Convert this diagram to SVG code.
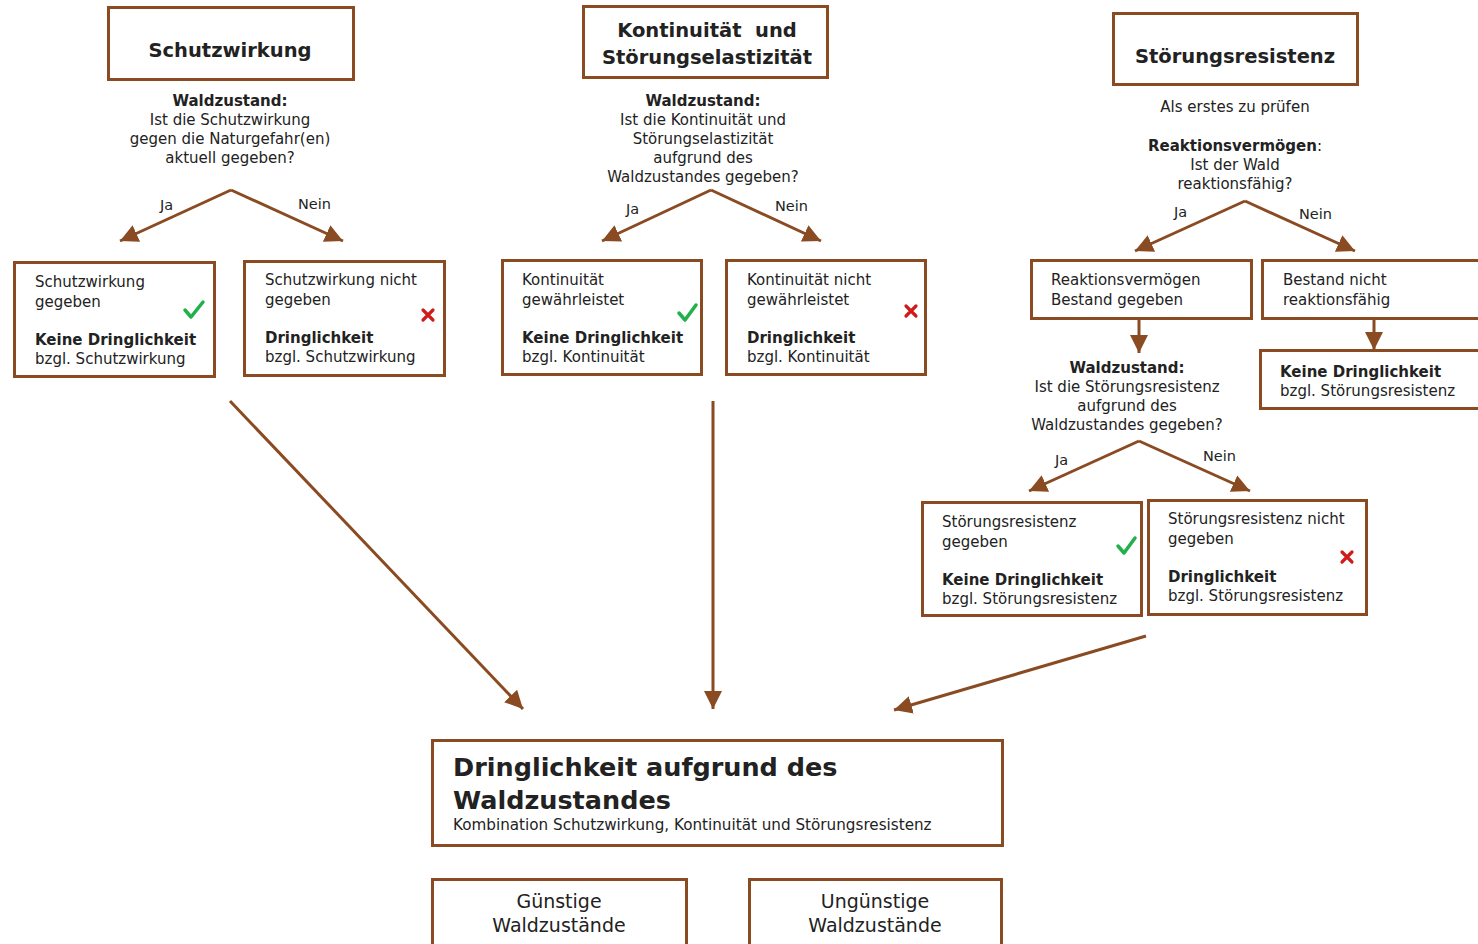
<svg xmlns="http://www.w3.org/2000/svg" width="1478" height="944" viewBox="0 0 1478 944">
<style>
.box{fill:#fff;stroke:#8a4b22;stroke-width:3}
.t{font-family:"DejaVu Sans","Liberation Sans",sans-serif;fill:#222}
.title{font-size:19.5px;font-weight:bold;text-anchor:middle}
.q{font-size:15px;text-anchor:middle}
.qb{font-weight:bold}
.bt{font-size:15px}
.b{font-weight:bold}
.lbl{font-size:14.5px}
.con{stroke:#8a4b22;stroke-width:3;fill:none}
.ok{fill:none;stroke:#22b04a;stroke-width:3.5;stroke-linecap:round;stroke-linejoin:round}
.no{stroke:#d01b1b;stroke-width:3.2;stroke-linecap:round}
</style>
<defs>
<marker id="ah" markerUnits="userSpaceOnUse" markerWidth="20" markerHeight="18" refX="18" refY="9" orient="auto">
<path d="M0,0 L18,9 L0,18 z" fill="#8a4b22"/>
</marker>
</defs>
<rect width="1478" height="944" fill="#fff"/>

<g id="connectors">
<polyline class="con" points="231,190 120,241" marker-end="url(#ah)"/>
<polyline class="con" points="231,190 343,241" marker-end="url(#ah)"/>
<polyline class="con" points="711,190 602,241" marker-end="url(#ah)"/>
<polyline class="con" points="711,190 821,241" marker-end="url(#ah)"/>
<polyline class="con" points="1245,201 1135,251" marker-end="url(#ah)"/>
<polyline class="con" points="1245,201 1355,251" marker-end="url(#ah)"/>
<line class="con" x1="1139" y1="319" x2="1139" y2="353" marker-end="url(#ah)"/>
<line class="con" x1="1374" y1="319" x2="1374" y2="350" marker-end="url(#ah)"/>
<polyline class="con" points="1139,441 1029,491" marker-end="url(#ah)"/>
<polyline class="con" points="1139,441 1250,491" marker-end="url(#ah)"/>
<line class="con" x1="230" y1="401" x2="523" y2="709" marker-end="url(#ah)"/>
<line class="con" x1="713" y1="401" x2="713" y2="709" marker-end="url(#ah)"/>
<line class="con" x1="1146" y1="636" x2="894" y2="710" marker-end="url(#ah)"/>
<text class="t lbl" x="160" y="210">Ja</text>
<text class="t lbl" x="298" y="209">Nein</text>
<text class="t lbl" x="626" y="214">Ja</text>
<text class="t lbl" x="775" y="211">Nein</text>
<text class="t lbl" x="1174" y="217">Ja</text>
<text class="t lbl" x="1299" y="219">Nein</text>
<text class="t lbl" x="1055" y="465">Ja</text>
<text class="t lbl" x="1203" y="461">Nein</text>
</g>

<g id="schutzwirkung">
<rect class="box" x="108.5" y="7.5" width="245" height="72"/>
<text class="t title" x="230" y="57">Schutzwirkung</text>
</g>
<g id="q-schutz">
<text class="t q" x="230" y="106"><tspan class="qb">Waldzustand:</tspan><tspan x="230" dy="19">Ist die Schutzwirkung</tspan><tspan x="230" dy="19">gegen die Naturgefahr(en)</tspan><tspan x="230" dy="19">aktuell gegeben?</tspan></text>
</g>
<g id="schutz-ja">
<rect class="box" x="14.5" y="262.5" width="200" height="114"/>
<text class="t bt" x="35" y="287">Schutzwirkung<tspan x="35" dy="19.5">gegeben</tspan><tspan class="b" x="35" dy="38">Keine Dringlichkeit</tspan><tspan x="35" dy="19">bzgl. Schutzwirkung</tspan></text>
<polyline class="ok" points="185,310 191,317 203,302"/>
</g>
<g id="schutz-nein">
<rect class="box" x="244.5" y="261.5" width="200" height="114"/>
<text class="t bt" x="265" y="285">Schutzwirkung nicht<tspan x="265" dy="19.5">gegeben</tspan><tspan class="b" x="265" dy="38">Dringlichkeit</tspan><tspan x="265" dy="19">bzgl. Schutzwirkung</tspan></text>
<path class="no" d="M423,310 L433,320 M433,310 L423,320"/>
</g>

<g id="kontinuitaet">
<rect class="box" x="583.5" y="6.5" width="244" height="71"/>
<text class="t title" x="707" y="37" xml:space="preserve">Kontinuität  und</text>
<text class="t title" x="707" y="64">Störungselastizität</text>
</g>
<g id="q-kont">
<text class="t q" x="703" y="106"><tspan class="qb">Waldzustand:</tspan><tspan x="703" dy="19">Ist die Kontinuität und</tspan><tspan x="703" dy="19">Störungselastizität</tspan><tspan x="703" dy="19">aufgrund des</tspan><tspan x="703" dy="19">Waldzustandes gegeben?</tspan></text>
</g>
<g id="kont-ja">
<rect class="box" x="502.5" y="260.5" width="199" height="114"/>
<text class="t bt" x="522" y="285">Kontinuität<tspan x="522" dy="19.5">gewährleistet</tspan><tspan class="b" x="522" dy="38">Keine Dringlichkeit</tspan><tspan x="522" dy="19">bzgl. Kontinuität</tspan></text>
<polyline class="ok" points="679,313 685,320 696,305"/>
</g>
<g id="kont-nein">
<rect class="box" x="726.5" y="260.5" width="199" height="114"/>
<text class="t bt" x="747" y="285">Kontinuität nicht<tspan x="747" dy="19.5">gewährleistet</tspan><tspan class="b" x="747" dy="38">Dringlichkeit</tspan><tspan x="747" dy="19">bzgl. Kontinuität</tspan></text>
<path class="no" d="M906,306 L916,316 M916,306 L906,316"/>
</g>

<g id="stoerungsresistenz">
<rect class="box" x="1113.5" y="13.5" width="244" height="71"/>
<text class="t title" x="1235" y="63">Störungsresistenz</text>
</g>
<g id="q-reakt">
<text class="t q" x="1235" y="112">Als erstes zu prüfen</text>
<text class="t q" x="1235" y="151"><tspan class="qb">Reaktionsvermögen</tspan>:<tspan x="1235" dy="19">Ist der Wald</tspan><tspan x="1235" dy="19">reaktionsfähig?</tspan></text>
</g>
<g id="reakt-ja">
<rect class="box" x="1031.5" y="260.5" width="220" height="58"/>
<text class="t bt" x="1051" y="285">Reaktionsvermögen<tspan x="1051" dy="19.5">Bestand gegeben</tspan></text>
</g>
<g id="reakt-nein">
<rect class="box" x="1262.5" y="260.5" width="230" height="58"/>
<text class="t bt" x="1283" y="285">Bestand nicht<tspan x="1283" dy="19.5">reaktionsfähig</tspan></text>
</g>
<g id="reakt-keine">
<rect class="box" x="1260.5" y="350.5" width="230" height="58"/>
<text class="t bt" x="1280" y="377"><tspan class="b">Keine Dringlichkeit</tspan><tspan x="1280" dy="19">bzgl. Störungsresistenz</tspan></text>
</g>
<g id="q-stoer">
<text class="t q" x="1127" y="373"><tspan class="qb">Waldzustand:</tspan><tspan x="1127" dy="19">Ist die Störungsresistenz</tspan><tspan x="1127" dy="19">aufgrund des</tspan><tspan x="1127" dy="19">Waldzustandes gegeben?</tspan></text>
</g>
<g id="stoer-ja">
<rect class="box" x="922.5" y="502.5" width="219" height="113"/>
<text class="t bt" x="942" y="527">Störungsresistenz<tspan x="942" dy="19.5">gegeben</tspan><tspan class="b" x="942" dy="38">Keine Dringlichkeit</tspan><tspan x="942" dy="19">bzgl. Störungsresistenz</tspan></text>
<polyline class="ok" points="1118,546 1124,553 1135,538"/>
</g>
<g id="stoer-nein">
<rect class="box" x="1148.5" y="500.5" width="218" height="114"/>
<text class="t bt" x="1168" y="524">Störungsresistenz nicht<tspan x="1168" dy="19.5">gegeben</tspan><tspan class="b" x="1168" dy="38">Dringlichkeit</tspan><tspan x="1168" dy="19">bzgl. Störungsresistenz</tspan></text>
<path class="no" d="M1342,552 L1352,562 M1352,552 L1342,562"/>
</g>

<g id="dringlichkeit">
<rect class="box" x="432.5" y="740.5" width="570" height="105"/>
<text class="t" x="453" y="776" font-size="25.5" font-weight="bold">Dringlichkeit aufgrund des<tspan x="453" dy="33">Waldzustandes</tspan></text>
<text class="t" x="453" y="830" font-size="15.2">Kombination Schutzwirkung, Kontinuität und Störungsresistenz</text>
</g>
<g id="guenstig">
<rect class="box" x="432.5" y="879.5" width="254" height="80"/>
<text class="t" x="559" y="908" font-size="19" text-anchor="middle">Günstige<tspan x="559" dy="24">Waldzustände</tspan></text>
</g>
<g id="unguenstig">
<rect class="box" x="749.5" y="879.5" width="252" height="80"/>
<text class="t" x="875" y="908" font-size="19" text-anchor="middle">Ungünstige<tspan x="875" dy="24">Waldzustände</tspan></text>
</g>
</svg>
